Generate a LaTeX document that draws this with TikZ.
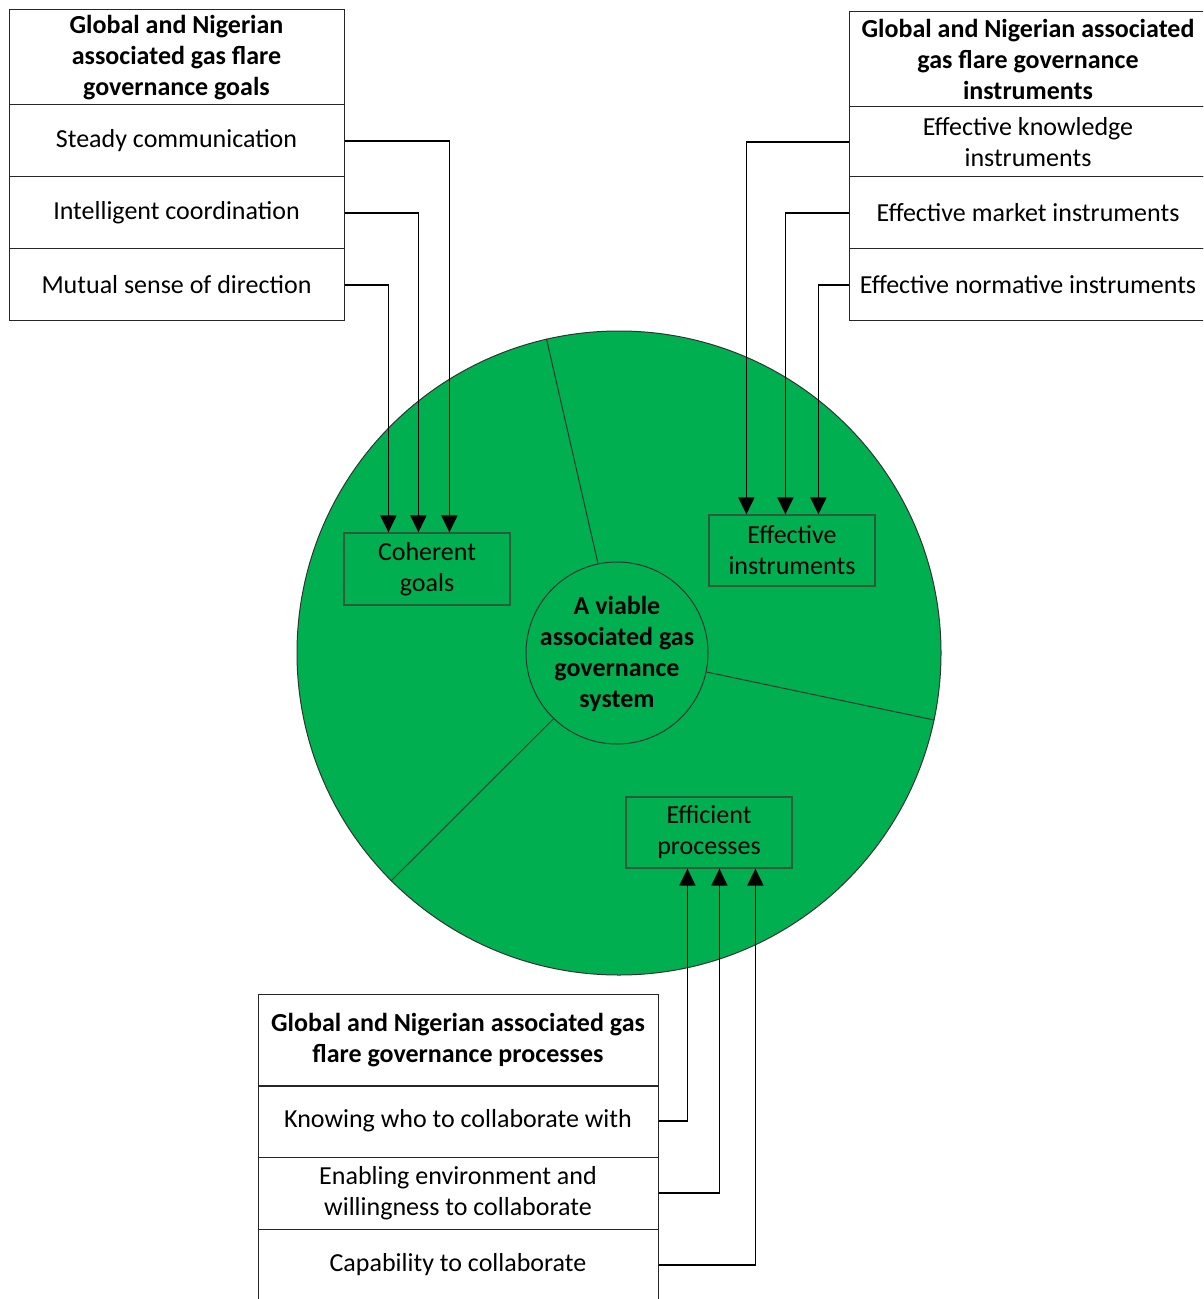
\documentclass[tikz,border=0pt]{standalone}
\usepackage{fontspec}
\setmainfont{Carlito}
\usetikzlibrary{arrows.meta,calc}
\definecolor{ogreen}{HTML}{00B050}
\definecolor{boxedge}{HTML}{2E5B3C}
\newcommand\myfs{\fontsize{13pt}{15.5pt}\selectfont}
\begin{document}
\begin{tikzpicture}[x=0.5pt,y=-0.5pt, font=\myfs,
  cell/.style={draw=black!85, line width=0.5pt, inner sep=0pt, align=center},
  gcell/.style={cell, minimum width=167.5pt, minimum height=36pt},
  icell/.style={cell, minimum width=179pt, minimum height=36pt},
  pcell/.style={cell, minimum width=200pt, minimum height=36pt},
  head/.style={font=\myfs\bfseries},
  gbox/.style={draw=boxedge, line width=0.6pt, fill=ogreen, inner sep=0pt, align=center, minimum width=83pt, minimum height=35.5pt},
  arr/.style={line width=0.9pt, -{Triangle[length=8.5pt,width=8pt]}}]
\useasboundingbox (0,0) rectangle (1203,1299);
\clip (0,0) rectangle (1203,1299);
\fill[white] (0,0) rectangle (1203,1299);

% big circle and centre
\node[circle, draw=black!80, line width=0.5pt, fill=ogreen, minimum size=322pt, inner sep=0pt] (big) at (619,653) {};
\node[circle, draw=black!80, line width=0.5pt, fill=ogreen, minimum size=91pt, inner sep=0pt] (inner) at (617,653) {};
\node[font=\myfs\bfseries, align=center, inner sep=0pt] (ctext) at (617,654) {A viable\\associated gas\\governance\\system};
\draw[black!80, line width=0.5pt] (inner.102.7) -- (big.103.8);
\draw[black!80, line width=0.5pt] (inner.-12.2) -- (big.-12);
\draw[black!80, line width=0.5pt] (inner.226.5) -- (big.225.5);

% inner boxes
\node[gbox, minimum height=36pt] (cg) at (427,569) {Coherent\\goals};
\node[gbox] (ei) at (792,550.5) {Effective\\instruments};
\node[gbox] (ep) at (709,832.5) {Efficient\\processes};

% goals table
\node[gcell, head, minimum height=47.5pt] (gh) at (176.5,57.5) {Global and Nigerian\\associated gas flare\\governance goals};
\node[gcell] (g1) at (176.5,141) {Steady communication};
\node[gcell] (g2) at (176.5,213) {Intelligent coordination};
\node[gcell] (g3) at (176.5,285) {Mutual sense of direction};

% instruments table
\node[icell, head, minimum height=47.5pt] (ih) at (1028,59.5) {Global and Nigerian associated\\gas flare governance\\instruments};
\node[icell, minimum height=35pt] (i1) at (1028,142) {Effective knowledge\\instruments};
\node[icell] (i2) at (1028,213) {Effective market instruments};
\node[icell] (i3) at (1028,285) {Effective normative instruments};

% processes table
\node[pcell, head, minimum height=46pt] (ph) at (458,1040) {Global and Nigerian associated gas\\flare governance processes};
\node[pcell] (p1) at (458,1121) {Knowing who to collaborate with};
\node[pcell] (p2) at (458,1193) {Enabling environment and\\willingness to collaborate};
\node[pcell] (p3) at (458,1265) {Capability to collaborate};

% connectors
\draw[arr] (g1.east) -| ($(cg.north west)+(106,0)$);
\draw[arr] (g2.east) -| ($(cg.north west)+(75,0)$);
\draw[arr] (g3.east) -| ($(cg.north west)+(45,0)$);
\draw[arr] (i1.west) -| ($(ei.north west)+(38,0)$);
\draw[arr] (i2.west) -| ($(ei.north west)+(77,0)$);
\draw[arr] (i3.west) -| ($(ei.north west)+(110,0)$);
\draw[arr] (p1.east) -| ($(ep.south west)+(62,0)$);
\draw[arr] (p2.east) -| ($(ep.south west)+(94,0)$);
\draw[arr] (p3.east) -| ($(ep.south west)+(130,0)$);
\end{tikzpicture}
\end{document}
